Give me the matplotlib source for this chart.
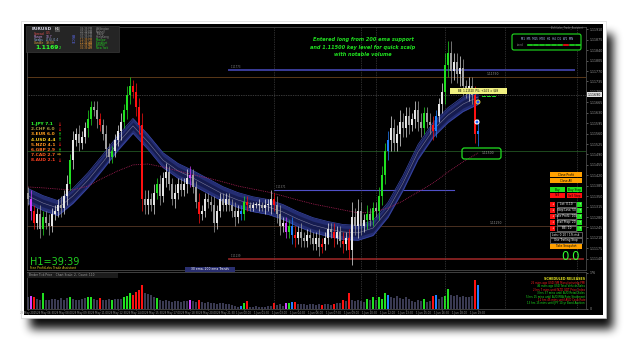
import numpy as np
import matplotlib
matplotlib.use('Agg')
import matplotlib.pyplot as plt
from matplotlib.patches import Rectangle, FancyBboxPatch, Circle
import matplotlib.transforms as mtrans

W, H = 625, 340

# EURUSD bars, prices in pips above 1.1100
first_open = 36
closes = [34, 30, 26, 29, 24, 28, 26, 25, 29, 30,
          32, 31, 35, 39, 47, 54, 56, 53, 55, 58,
          61, 65, 64, 61, 59, 56, 51, 48, 50, 54,
          57, 60, 64, 69, 72, 70, 65, 59, 34, 32,
          34, 32, 36, 39, 35, 41, 43, 39, 34, 36,
          39, 37, 39, 41, 42, 38, 33, 29, 30, 34,
          33, 32, 26, 30, 34, 32, 34, 32, 30, 28,
          30, 29, 33, 32, 31, 32, 32, 32, 31, 32,
          32, 34, 32, 29, 25, 26, 23, 25, 22, 21,
          23, 21, 20, 22, 21, 19, 21, 18, 19, 21,
          24, 23, 21, 23, 20, 19, 21, 17, 28, 25,
          30, 25, 27, 29, 27, 31, 30, 35, 42, 50,
          54, 58, 53, 56, 60, 58, 62, 59, 61, 64,
          60, 58, 63, 60, 59, 57, 62, 66, 70, 79,
          83, 77, 80, 76, 78, 72, 70, 72, 69, 56, 57]
wicks = [2, 3, 2, 2, 3, 2, 2, 3, 2, 2,
         2, 3, 2, 3, 2, 3, 2, 3, 2, 2,
         3, 2, 2, 3, 2, 2, 3, 2, 2, 2,
         2, 3, 2, 3, 3, 2, 3, 3, 4, 3,
         3, 2, 3, 2, 3, 2, 3, 2, 2, 3,
         2, 2, 2, 3, 3, 2, 2, 3, 2, 2,
         2, 2, 3, 2, 2, 2, 2, 2, 2, 3,
         2, 2, 2, 2, 1, 1, 1, 2, 1, 2,
         2, 3, 2, 3, 3, 2, 2, 2, 3, 3,
         2, 3, 2, 2, 2, 2, 2, 3, 2, 2,
         2, 2, 3, 2, 2, 3, 2, 3, 5, 3,
         4, 3, 2, 3, 2, 2, 2, 3, 3, 3,
         3, 4, 3, 3, 4, 3, 3, 3, 2, 3,
         3, 3, 2, 2, 3, 3, 2, 2, 3, 4,
         4, 4, 3, 3, 4, 3, 2, 3, 3, 3, 4]
volume = [60, 62, 58, 48, 45, 78, 42, 46, 50, 48,
          44, 52, 46, 55, 60, 50, 46, 44, 48, 52,
          58, 60, 48, 46, 54, 44, 42, 48, 45, 50,
          48, 50, 60, 62, 78, 70, 85, 92, 118, 80,
          72, 66, 60, 52, 44, 40, 42, 38, 36, 40,
          38, 35, 40, 38, 44, 38, 34, 45, 32, 30,
          34, 28, 30, 26, 28, 30, 26, 24, 18, 14,
          12, 16, 30, 40, 12, 10, 14, 12, 10, 12,
          14, 16, 30, 18, 22, 16, 30, 28, 34, 36,
          24, 22, 26, 20, 22, 24, 20, 22, 20, 22,
          24, 20, 26, 28, 30, 46, 40, 80, 42, 38,
          44, 40, 36, 50, 44, 60, 46, 56, 48, 80,
          70, 58, 52, 62, 55, 50, 60, 48, 40, 36,
          42, 38, 48, 36, 40, 62, 68, 50, 56, 64,
          98, 70, 62, 66, 58, 64, 60, 56, 62, 142, 118]
# bar colour signals (g=strong up, r=strong down, m=reversal, b=entry)
signals = {1: 'm', 2: 'r', 5: 'g', 14: 'g', 20: 'g', 21: 'g', 24: 'r', 28: 'g',
           32: 'g', 33: 'g', 34: 'g', 35: 'r', 36: 'r', 37: 'r', 38: 'r', 43: 'g',
           54: 'm', 57: 'r', 71: 'b', 72: 'g', 73: 'r', 82: 'r', 86: 'm', 87: 'g',
           88: 'b', 89: 'r', 98: 'r', 102: 'r', 105: 'r', 107: 'r', 113: 'g',
           115: 'g', 117: 'g', 118: 'g', 119: 'g', 120: 'b', 132: 'g', 135: 'r',
           136: 'b', 139: 'g', 140: 'g', 149: 'r', 150: 'b'}
# 30 ema ribbon mid and 200 ema, every 5th bar
ema30 = [35.1, 32.7, 31.0, 35.1, 40.4, 46.5, 52.9, 58.6, 53.2, 47.1, 43.5,
         41.1, 38.4, 35.7, 33.7, 32.3, 31.4, 29.7, 27.3, 25.3, 24.0, 23.0,
         22.7, 24.3, 30.4, 39.4, 49.8, 57.2, 62.2, 65.9, 68.3]
ema200 = [38.1, 37.8, 37.4, 37.1, 38.4, 41.1, 43.5, 45.5, 45.8, 44.8, 43.5,
          42.2, 41.1, 39.8, 38.4, 37.4, 36.4, 35.1, 33.7, 32.4, 31.4, 30.4,
          29.4, 29.7, 31.0, 33.4, 36.4, 39.4, 43.1, 46.5, 49.5]

price_ticks = [1.11910, 1.11875, 1.11840, 1.11805, 1.11770, 1.11735, 1.11700,
               1.11665, 1.11630, 1.11595, 1.11560, 1.11525, 1.11490, 1.11455,
               1.11420, 1.11385, 1.11350, 1.11315, 1.11280, 1.11245, 1.11210,
               1.11175, 1.11140]
bid = 1.11690
# key levels: price, start bar, end bar, colour, width
levels = [(1.11750, None, None, '#5a3818', 0.7),
          (1.11500, None, None, '#1d4a1d', 0.7),
          (1.11250, None, None, '#4a3020', 0.7),
          (1.11773, 67, 182, '#3a3c98', 1.4),
          (1.11371, 82, 142, '#5050c8', 0.8),
          (1.11139, 67, 185, '#8a2222', 1.3)]
separators = [82, 111, 116, 139, 159, 183]
time_labels = ['29 May 2015', '29 May 06:30', '29 May 08:00', '29 May 09:30',
               '29 May 11:00', '29 May 12:30', '29 May 14:00', '29 May 15:30',
               '29 May 17:00', '29 May 18:30', '29 May 20:00', '29 May 21:30',
               '1 Jun 00:00', '1 Jun 01:30', '1 Jun 03:00', '1 Jun 04:30',
               '1 Jun 06:00', '1 Jun 07:30', '1 Jun 09:00', '1 Jun 10:30',
               '1 Jun 12:00', '1 Jun 13:30', '1 Jun 15:00', '1 Jun 16:30',
               '1 Jun 18:00', '1 Jun 19:30']
strength = [('1.JPY', 7.1, '#30ff30', 'dn'), ('2.CHF', 6.0, '#b0a040', 'dn'),
            ('3.EUR', 6.0, '#ffa020', 'up'), ('4.USD', 4.4, '#ffd020', 'up'),
            ('5.NZD', 4.1, '#ff9020', 'dn'), ('6.GBP', 2.9, '#ff7020', 'up'),
            ('7.CAD', 2.7, '#ff6020', 'flat'), ('8.AUD', 2.1, '#ff4020', 'dn')]
releases = [('26 mins ago USD ISM Manufacturing PMI', '#ff2020'),
            ('46 mins ago USD Total Vehicle Sales', '#20e020'),
            ('2 hrs 7 mins until NZD GDT Price Index', '#ff2020'),
            ('3 hrs 37 mins until AUD Retail Sales', '#20e020'),
            ('5 hrs 15 mins until AUD RBA Rate Statement', '#20e020'),
            ('11 hrs 45 mins until AUD Cash Rate', '#ff2020'),
            ('13 hrs 15 mins until JPY 10-yr Bond Auction', '#20e020')]

def pips(p):
    return (p - 1.11) * 10000

def box(x0, y0, x1, y1):
    return [x0 / W, 1 - y1 / H, (x1 - x0) / W, (y1 - y0) / H]

fig = plt.figure(figsize=(W / 100, H / 100), dpi=100, facecolor='white')

# frame + drop shadow
bg = fig.add_axes([0, 0, 1, 1])
bg.set_xlim(0, W); bg.set_ylim(H, 0); bg.axis('off')
sh = np.zeros((H, W))
sh[34:329, 30:613] = 1.0
k = np.ones(9) / 9
for _ in range(3):
    sh = np.apply_along_axis(lambda v: np.convolve(v, k, mode='same'), 0, sh)
    sh = np.apply_along_axis(lambda v: np.convolve(v, k, mode='same'), 1, sh)
img = np.zeros((H, W, 4))
img[..., 3] = np.clip(sh * 0.95, 0, 1)
bg.imshow(img, extent=(0, W, H, 0), aspect='auto')
bg.add_patch(Rectangle((21, 21), 585, 297, fc='white', ec='#d0d0d0', lw=0.4))
bg.add_patch(Rectangle((24, 24), 579, 291, fc='black', ec='none'))

acc = {'g': '#20e020', 'r': '#ff1010', 'm': '#d040ff', 'b': '#2080ff'}
n = len(closes)
idx = np.arange(n)
c = np.array(closes, float)
o = np.r_[first_open, c[:-1]]
wk = np.array(wicks, float)
hi = np.maximum(o, c) + wk
lo = np.minimum(o, c) - wk
cols = [acc[signals[i]] if i in signals else ('#e6e6e6' if c[i] >= o[i] else '#a0a0a0')
        for i in range(n)]
vcols = [acc[signals[i]] if i in signals else '#3a3a52' for i in range(n)]

# main price panel
ax = fig.add_axes(box(27, 27, 586, 270))
ax.set_facecolor('black')
ax.set_xlim(-0.33, 186)
ax.set_ylim(10.23, 91.78)
for s in ax.spines.values():
    s.set_color('#4a4a4a'); s.set_linewidth(0.6)
ax.set_xticks([])
ax.yaxis.tick_right()
ax.set_yticks([pips(p) for p in price_ticks])
ax.set_yticklabels([f'{p:.5f}' for p in price_ticks])
ax.tick_params(axis='y', labelsize=2.3, colors='#9a9a9a', length=1.5, width=0.4, pad=1)

for p, a, b, col, lw in levels:
    if a is None:
        ax.axhline(pips(p), color=col, lw=lw, zorder=1)
    else:
        ax.plot([a, b], [pips(p), pips(p)], color=col, lw=lw, zorder=1)
        ax.text(a + 0.5, pips(p) + 0.6, f'{p:.5f}', fontsize=1.8, color='#8a8a8a')
ax.text(153, pips(1.11750) + 0.8, '1.11750', fontsize=2.2, color='#9a9a9a')
ax.text(154, pips(1.11250) + 0.8, '1.11250', fontsize=2.2, color='#9a9a9a')
ax.axhline(pips(bid), color='#707070', lw=0.5, ls=(0, (1, 1.5)), zorder=1)
for sx in separators:
    ax.axvline(sx, color='#585858', lw=0.5, ls=(0, (1, 1.5)), zorder=1)

ex = idx[::5]
e30 = np.array(ema30)
ax.fill_between(ex, e30 - 2.5, e30 + 2.5, color='#242d72', lw=0, zorder=2)
ax.fill_between(ex, e30 - 1.3, e30 + 1.3, color='#161c50', lw=0, zorder=2)
ax.plot(ex, e30 + 2.5, color='#3a48a8', lw=0.5, zorder=2)
ax.plot(ex, e30 - 2.5, color='#3a48a8', lw=0.5, zorder=2)
ax.plot(ex, e30, color='#7a7a98', lw=0.4, zorder=2)
ax.plot(ex, ema200, color='#b0205a', lw=0.6, ls=(0, (1, 1.2)), zorder=2)

ax.vlines(idx, lo, hi, colors=cols, lw=0.5, zorder=3)
ax.bar(idx, np.maximum(np.abs(c - o), 0.35), bottom=np.minimum(o, c), width=0.55,
       color=cols, lw=0, zorder=3)

tr = mtrans.blended_transform_factory(ax.transAxes, ax.transData)
ax.text(1.003, pips(bid), f'{bid:.5f}', transform=tr, fontsize=2.3, color='black',
        va='center', bbox=dict(fc='#e0e0e0', ec='none', pad=0.4))

# volume panel
vax = fig.add_axes(box(27, 272, 586, 309))
vax.set_facecolor('black')
vax.set_xlim(-0.33, 186)
vax.set_ylim(0, 180)
for s in vax.spines.values():
    s.set_color('#4a4a4a'); s.set_linewidth(0.6)
vax.bar(idx, volume, width=0.75, color=vcols, lw=0)
for sx in separators:
    vax.axvline(sx, color='#585858', lw=0.5, ls=(0, (1, 1.5)))
vax.yaxis.tick_right()
vax.set_yticks([0, 176])
vax.tick_params(axis='y', labelsize=2.3, colors='#9a9a9a', length=1.5, width=0.4, pad=1)
vax.set_xticks(idx[::6])
vax.set_xticklabels(time_labels)
vax.tick_params(axis='x', labelsize=1.9, colors='#9a9a9a', length=1, width=0.4, pad=0.6)

# overlay of indicator panels and buttons
ov = fig.add_axes([0, 0, 1, 1])
ov.set_xlim(0, W); ov.set_ylim(H, 0); ov.axis('off')
ov.patch.set_alpha(0)

ov.add_patch(Rectangle((26, 26), 93, 26, fc='#252525', ec='#444444', lw=0.4))
ov.text(32, 29.5, 'EURUSD', fontsize=3.2, color='#d0d0e0', weight='bold', va='center')
ov.text(55, 29.5, 'H1', fontsize=2.6, color='white', va='center',
        bbox=dict(fc='#505050', ec='none', pad=0.3))
for j, (lab, val, col) in enumerate([('Spread', '0.5', '#e05050'), ('Range', '18.7', '#c090e0'),
                                     ('Swaps', '-0.6/-0.4', '#90b0e0'), ('Candle', '39:39', '#e0a040')]):
    ov.text(34, 33.5 + 3.3 * j, lab, fontsize=2.2, color=col, va='center')
    ov.text(46, 33.5 + 3.3 * j, val, fontsize=2.2, color=col, va='center')
ov.text(35, 47.5, '1.1169', fontsize=4.3, color='#30ff30', weight='bold', va='center')
ov.text(58.5, 48.2, '2', fontsize=2.6, color='#30ff30', va='center')
ov.text(72, 39, 'PRICE', fontsize=2.4, color='#6070ff', rotation=270, ha='center', va='center')
cities = ['Wellington', 'Sydney', 'Tokyo', 'HongKong', 'Moscow', 'Frankfurt', 'London', 'New York']
hours = ['09:39 PM', '07:39 PM', '06:39 PM', '05:39 PM', '12:39 PM', '11:39 AM', '10:39 AM', '05:39 AM']
for j, (cty, hr) in enumerate(zip(cities, hours)):
    yy = 29 + 2.7 * j
    ov.text(80, yy, hr, fontsize=1.9, color='#909090' if j < 4 else '#e09030', va='center')
    ov.text(96, yy, cty, fontsize=1.9, color='#909090' if j < 4 else '#20d020', va='center')

arrows = {'up': ('\u2191', '#20e020'), 'dn': ('\u2193', '#ff2020'), 'flat': ('\u21d2', '#e0a020')}
for j, (cur, val, col, d) in enumerate(strength):
    yy = 124 + 5.2 * j
    ov.text(31, yy, f'{cur} {val:.1f}', fontsize=3.2, color=col, weight='bold', va='center')
    ov.text(57, yy, arrows[d][0], fontsize=3.4, color=arrows[d][1], weight='bold', va='center')

for j, line in enumerate(['Entered long from 200 ema support',
                          'and 1.11500 key level for quick scalp',
                          'with notable volume']):
    ov.text(363, 40 + 7 * j, line, fontsize=3.6, color='#20e020', weight='bold',
            style='italic', ha='center', va='center')

ov.text(584, 27.5, 'ProfitLabs_Trade_Assistant', fontsize=1.8, color='#808080', ha='right', va='center')
ov.add_patch(FancyBboxPatch((512, 34), 69, 16, boxstyle='round,pad=0,rounding_size=2',
                            fc='black', ec='#20e020', lw=0.8))
ov.text(547, 39, 'M1  M5  M15  M30  H1  H4  D1  W1  MN', fontsize=1.9, color='#b0c8ff',
        ha='center', va='center')
ov.text(517, 45, 'trend', fontsize=1.8, color='#909090', va='center')
for j in range(9):
    ov.plot([528 + 6 * j, 532 + 6 * j], [45, 45], color='#ff1010' if j == 6 else '#20e020', lw=1.2)

ov.add_patch(Rectangle((450, 88), 57, 5.5, fc='#f0f080', ec='none'))
ov.text(478.5, 90.8, 'BE: 1.11520  P/L: +24.5 = $49', fontsize=1.9, color='black',
        ha='center', va='center')
for j in range(3):
    ov.plot([482 + 5 * j, 485 + 5 * j], [96, 96], color='#20e020', lw=0.7)
ov.add_patch(Circle((478, 102), 2.0, fc='#2050ff', ec='#f0e040', lw=0.6))
ov.add_patch(Circle((477, 122), 2.0, fc='#2060ff', ec='white', lw=0.8))
ov.add_patch(FancyBboxPatch((462, 148), 39, 11, boxstyle='round,pad=0,rounding_size=2.5',
                            fc='none', ec='#20e020', lw=0.9))
ov.text(488, 152.5, '1.11500', fontsize=2.2, color='#a0a0a0', ha='center', va='center')

def button(x0, y0, x1, y1, fc, txt, tc='black', ec='none'):
    ov.add_patch(Rectangle((x0, y0), x1 - x0, y1 - y0, fc=fc, ec=ec, lw=0.4))
    ov.text((x0 + x1) / 2, (y0 + y1) / 2, txt, fontsize=2.1, color=tc, ha='center', va='center')

button(550, 172, 582, 177, '#ffa000', 'Close Profit')
button(550, 178, 582, 183, '#ffa000', 'Close All')
button(550, 187, 565, 192, '#20e020', 'Buy')
button(567, 187, 582, 192, '#20e020', 'Buy Stop')
button(550, 193, 565, 198, '#ff1010', 'Sell')
button(567, 193, 582, 198, '#ff1010', 'Sell Stop')
for j, lab in enumerate(['Lot: 0.10', 'Stop Loss: 50', 'Take Profit: 100', 'Trail Stop: 20', 'BE: 10']):
    y0 = 202 + 6 * j
    button(550, y0, 555, y0 + 4.5, '#ff1010', '\u2193', 'white')
    button(556.5, y0, 576, y0 + 4.5, 'black', lab, 'white', '#a0a0a0')
    button(577, y0, 582, y0 + 4.5, '#20e020', '\u2191', 'white')
button(550, 232, 582, 237, 'black', 'Lots: 0.10 / 1% risk', 'white', '#a0a0a0')
button(550, 238, 582, 243, 'black', 'Use Trailing Stop', 'white', '#a0a0a0')
button(550, 244, 582, 249, '#ffa000', 'Take Snapshot')
ov.text(571, 257, '0.0', fontsize=8.5, color='#30ff30', ha='center', va='center')

ov.text(30, 262, 'H1=39:39', fontsize=7, color='#20d020', va='center')
ov.text(30, 268, 'Free ProfitLabs Trade Assistant', fontsize=2.2, color='#e0d020', va='center')
ov.add_patch(Rectangle((185, 266.5), 50, 5.5, fc='#2a2f70', ec='none'))
ov.text(210, 269.3, '30 ema, 200 ema Trends', fontsize=2.2, color='white', ha='center', va='center')
ov.add_patch(Rectangle((27, 272.5), 91, 5, fc='#1c1c1c', ec='none'))
ov.text(29, 275, 'Broker Tick Price    Chart Scale: 2,  Count: 110', fontsize=2.1,
        color='#a0a0a0', va='center')

ov.text(585, 279, 'SCHEDULED RELEASES', fontsize=2.3, color='#e0e020', ha='right',
        va='center', weight='bold')
for j, (txt, col) in enumerate(releases):
    ov.text(585, 283 + 3.4 * j, txt, fontsize=1.9, color=col, ha='right', va='center')

fig.savefig('out.png', dpi=100, facecolor='white')
